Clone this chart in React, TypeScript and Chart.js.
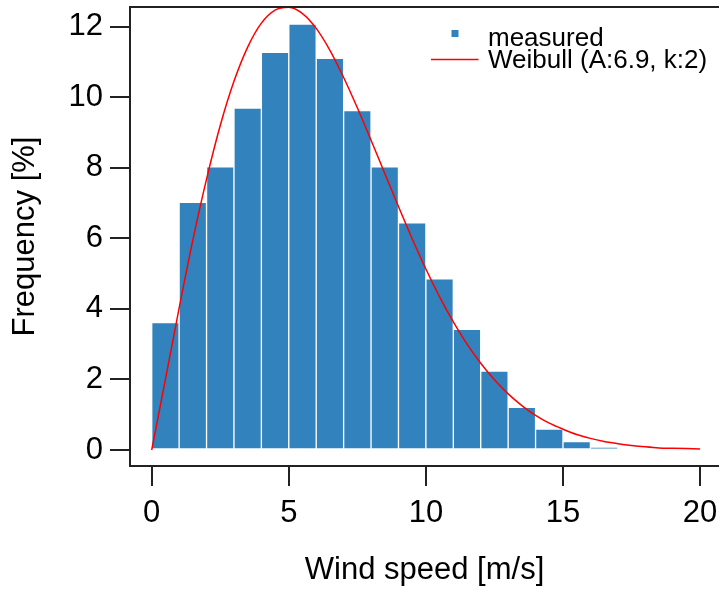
import React, { useEffect, useRef } from "react";
import { Chart, registerables } from "chart.js";

Chart.register(...registerables);

// Histogram bins (lower edge, m/s) and measured frequency (%)
const binStart = [0, 1, 2, 3, 4, 5, 6, 7, 8, 9, 10, 11, 12, 13, 14, 15, 16];
const binWidth = 1;
const measured = [3.61, 7.02, 8.03, 9.69, 11.27, 12.07, 11.1, 9.62, 8.03, 6.44, 4.85, 3.42, 2.24, 1.21, 0.59, 0.24, 0.08];

// Fitted Weibull curve
const weibullSpeed = [
  0, 0.5, 1, 1.5, 2, 2.5, 3, 3.5, 4, 4.5, 5, 5.5, 6, 6.5, 7, 7.5, 8, 8.5, 9, 9.5, 10,
  10.5, 11, 11.5, 12, 12.5, 13, 13.5, 14, 14.5, 15, 15.5, 16, 16.5, 17, 17.5, 18, 18.5, 19, 19.5, 20,
];
const weibullFreq = [
  0, 2.0, 4.02, 5.95, 7.68, 9.2, 10.45, 11.42, 12.1, 12.47, 12.55, 12.37, 11.95, 11.33, 10.56, 9.7, 8.78,
  7.84, 6.9, 5.99, 5.13, 4.34, 3.63, 3.0, 2.46, 1.99, 1.59, 1.26, 0.98, 0.76, 0.59, 0.44, 0.33, 0.24, 0.18,
  0.13, 0.09, 0.06, 0.05, 0.04, 0.03,
];

const xTicks = [0, 5, 10, 15, 20];
const yTicks = [0, 2, 4, 6, 8, 10, 12];

const seriesLabels = ["measured", "Weibull (A:6.9, k:2)"];
const xTitle = "Wind speed [m/s]";
const yTitle = "Frequency [%]";

const FAMILY = "'Liberation Sans', Arial, Helvetica, sans-serif";
const BAR_COLOR = "#3182bd";
const LINE_COLOR = "#ff0000";
const AXIS_COLOR = "#222222";

export default function App() {
  const ref = useRef<HTMLCanvasElement>(null);

  useEffect(() => {
    const canvas = ref.current;
    if (!canvas) return;

    const framePlugin = {
      id: "frameAndLegend",
      afterDraw(chart: any) {
        const { ctx, chartArea } = chart;
        ctx.save();
        // top frame line
        ctx.strokeStyle = AXIS_COLOR;
        ctx.lineWidth = 2;
        ctx.beginPath();
        ctx.moveTo(chartArea.left - 1, chartArea.top);
        ctx.lineTo(chart.width, chartArea.top);
        ctx.stroke();

        // legend
        ctx.fillStyle = BAR_COLOR;
        ctx.fillRect(451.5, 30, 7, 7);
        ctx.strokeStyle = LINE_COLOR;
        ctx.lineWidth = 1.5;
        ctx.beginPath();
        ctx.moveTo(431, 59.5);
        ctx.lineTo(478.5, 59.5);
        ctx.stroke();
        ctx.fillStyle = "#000";
        ctx.font = `26px ${FAMILY}`;
        ctx.textAlign = "left";
        ctx.textBaseline = "alphabetic";
        ctx.fillText(seriesLabels[0], 488, 46);
        ctx.fillText(seriesLabels[1], 488, 68);
        ctx.restore();
      },
    };

    const chart = new Chart(canvas, {
      type: "bar",
      data: {
        datasets: [
          {
            type: "line",
            label: seriesLabels[1],
            data: weibullSpeed.map((x, i) => ({ x, y: weibullFreq[i] })),
            borderColor: LINE_COLOR,
            borderWidth: 1.5,
            pointRadius: 0,
            cubicInterpolationMode: "monotone",
            fill: false,
            order: 0,
          } as any,
          {
            type: "bar",
            label: seriesLabels[0],
            data: binStart.map((s, i) => ({ x: s + binWidth / 2, y: measured[i] })),
            backgroundColor: BAR_COLOR,
            borderColor: "#ffffff",
            borderWidth: 1,
            borderSkipped: false,
            barPercentage: 1,
            categoryPercentage: 1,
            order: 1,
          } as any,
        ],
      },
      options: {
        responsive: false,
        animation: false,
        events: [],
        layout: { padding: { top: 7, left: 0, right: 0, bottom: 0 } },
        plugins: {
          legend: { display: false },
          tooltip: { enabled: false },
        },
        scales: {
          x: {
            type: "linear",
            min: -0.7915,
            max: 20.69,
            offset: false,
            afterBuildTicks: (s: any) => {
              s.ticks = xTicks.map((v) => ({ value: v }));
            },
            afterFit: (s: any) => {
              s.height = 126;
              s.paddingLeft = 0;
              s.paddingRight = 0;
            },
            grid: {
              offset: false,
              drawOnChartArea: false,
              drawTicks: true,
              tickLength: 20,
              color: AXIS_COLOR,
              lineWidth: 2,
            },
            border: { display: true, color: AXIS_COLOR, width: 2 },
            ticks: {
              font: { family: FAMILY, size: 31 },
              color: "#000",
              padding: 9,
              maxRotation: 0,
              autoSkip: false,
              callback: (v: any) => String(v),
            },
            title: {
              display: true,
              text: xTitle,
              font: { family: FAMILY, size: 31 },
              color: "#000",
              padding: { top: 0, bottom: 3 },
            },
          } as any,
          y: {
            type: "linear",
            min: -0.4535,
            max: 12.557,
            afterBuildTicks: (s: any) => {
              s.ticks = yTicks.map((v) => ({ value: v }));
            },
            afterFit: (s: any) => {
              s.width = 130;
              s.paddingTop = 0;
              s.paddingBottom = 0;
            },
            grid: {
              drawOnChartArea: false,
              drawTicks: true,
              tickLength: 20,
              color: AXIS_COLOR,
              lineWidth: 2,
            },
            border: { display: true, color: AXIS_COLOR, width: 2 },
            ticks: {
              font: { family: FAMILY, size: 31 },
              color: "#000",
              padding: 7,
              autoSkip: false,
              callback: (v: any) => String(v),
            },
            title: {
              display: true,
              text: yTitle,
              font: { family: FAMILY, size: 31 },
              color: "#000",
              padding: { top: 7, bottom: 0 },
            },
          } as any,
        },
      },
      plugins: [framePlugin],
    });

    return () => chart.destroy();
  }, []);

  return (
    <div style={{ position: "absolute", left: 0, top: 0, width: 719, height: 592, background: "#fff" }}>
      <canvas ref={ref} width={719} height={592} style={{ display: "block", width: 719, height: 592 }} />
    </div>
  );
}
